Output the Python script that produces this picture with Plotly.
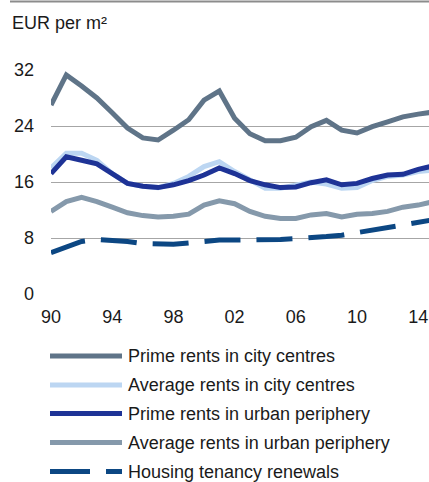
import plotly.graph_objects as go

years = list(range(1990, 2016))

prime_city = [27.0, 31.3, 29.7, 28.0, 25.9, 23.7, 22.3, 22.0, 23.4, 24.9, 27.7, 29.0, 25.1,
              22.9, 21.9, 21.9, 22.4, 23.9, 24.8, 23.4, 23.0, 23.9, 24.6, 25.3, 25.7, 26.0]
avg_city = [18.0, 20.1, 20.1, 19.1, 17.2, 15.8, 15.4, 15.2, 15.8, 16.8, 18.2, 18.9, 17.5,
            16.3, 15.1, 15.1, 15.6, 16.0, 15.7, 15.1, 15.2, 16.2, 16.8, 17.0, 17.5, 17.7]
prime_periph = [17.2, 19.6, 19.1, 18.6, 17.2, 15.8, 15.4, 15.2, 15.6, 16.2, 17.0, 18.0, 17.2,
                16.2, 15.6, 15.2, 15.3, 15.9, 16.3, 15.6, 15.8, 16.5, 17.0, 17.1, 17.8, 18.3]
avg_periph = [11.8, 13.2, 13.8, 13.2, 12.4, 11.6, 11.2, 11.0, 11.1, 11.4, 12.7, 13.3, 12.9,
              11.8, 11.1, 10.8, 10.8, 11.3, 11.5, 11.0, 11.4, 11.5, 11.8, 12.4, 12.7, 13.2]
renewals = [5.9, 6.7, 7.5, 7.8, 7.7, 7.5, 7.2, 7.1, 7.1, 7.3, 7.5, 7.7, 7.7,
            7.7, 7.7, 7.8, 7.9, 8.0, 8.2, 8.4, 8.8, 9.1, 9.6, 10.0, 10.3, 10.6]

series_names = ["Prime rents in city centres", "Average rents in city centres",
                "Prime rents in urban periphery", "Average rents in urban periphery",
                "Housing tenancy renewals"]
series_values = [prime_city, avg_city, prime_periph, avg_periph, renewals]
series_colors = ["#5f7488", "#bcd6f2", "#1e3396", "#8599ab", "#0c4783"]
series_dash = ["solid", "solid", "solid", "solid", "36px,16px"]

tick_years = [1990, 1994, 1998, 2002, 2006, 2010, 2014]
tick_text = ["90", "94", "98", "02", "06", "10", "14"]
y_ticks = [0, 8, 16, 24, 32]

# plot-area geometry in pixels (used only to place the legend/title in paper units)
W, H = 429, 482
L, T, B = 51, 70, 188
PW, PH = W - L, H - T - B


def px_x(p):
    return (p - L) / PW


def px_y(p):
    return (H - B - p) / PH


fig = go.Figure()
for name, vals, color, dash in zip(series_names, series_values, series_colors, series_dash):
    fig.add_trace(go.Scatter(
        x=years, y=vals, name=name, mode="lines",
        line=dict(color=color, width=5, dash=dash),
        showlegend=False,
    ))

font = dict(family="Liberation Sans, Arial, sans-serif", size=18, color="#1a1a1a")

# legend drawn as keys + labels (so it does not push the plot margins)
legend_rows = [356, 385, 413.5, 442.5, 471.5]
shapes = [dict(
    type="line", xref="paper", yref="paper",
    x0=px_x(10), x1=1, y0=px_y(1.5), y1=px_y(1.5),
    line=dict(color="#8c8c8c", width=2),
)]
annotations = [dict(
    text="EUR per m²", xref="paper", yref="paper",
    x=px_x(10), y=px_y(23), xanchor="left", yanchor="middle",
    showarrow=False, font=font,
)]
for name, color, dash, ry in zip(series_names, series_colors, series_dash, legend_rows):
    shapes.append(dict(
        type="line", xref="paper", yref="paper",
        x0=px_x(50), x1=px_x(122), y0=px_y(ry), y1=px_y(ry),
        line=dict(color=color, width=5, dash="40px,16px" if dash != "solid" else "solid"),
    ))
    annotations.append(dict(
        text=name, xref="paper", yref="paper",
        x=px_x(126), y=px_y(ry), xanchor="left", yanchor="middle",
        showarrow=False, font=font,
    ))

fig.update_layout(
    width=W, height=H,
    margin=dict(l=L, r=0, t=T, b=B),
    paper_bgcolor="white", plot_bgcolor="white",
    font=font,
    showlegend=False,
    xaxis=dict(
        range=[1990, 1990 + PW / 15.3],
        tickvals=tick_years, ticktext=tick_text,
        showgrid=False, zeroline=False, showline=False,
        ticks="", ticklabelstandoff=10, fixedrange=True,
    ),
    yaxis=dict(
        range=[0, 32], tickvals=y_ticks,
        showgrid=True, gridcolor="#a6a6a6", gridwidth=1.2,
        zeroline=False, showline=False, ticks="",
        ticklabelstandoff=16, fixedrange=True,
    ),
    shapes=shapes,
    annotations=annotations,
)

fig.write_html(
    "out.html",
    config={"displayModeBar": False},
    post_script="document.body.style.margin='0';document.body.style.overflow='hidden';",
)
